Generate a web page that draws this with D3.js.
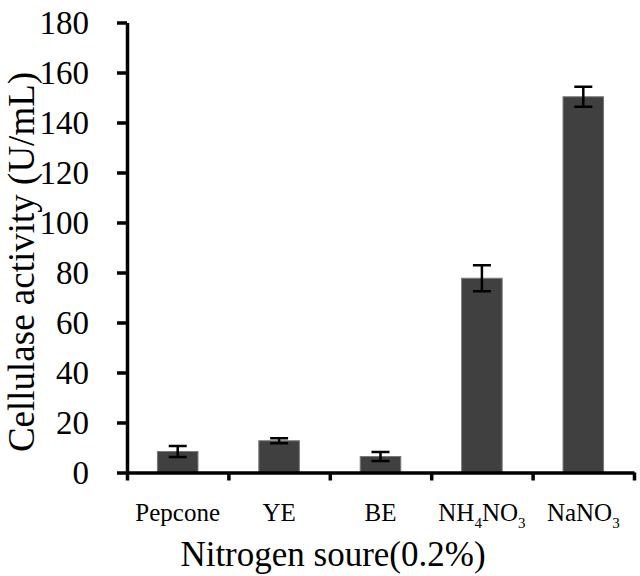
<!DOCTYPE html>
<html><head><meta charset="utf-8">
<script src="https://cdn.jsdelivr.net/npm/d3@7"></script>
<style>
html,body{margin:0;padding:0;background:#fff;}
svg{display:block;}
text{font-family:"Liberation Serif","Times New Roman",serif;fill:#000;}
</style></head>
<body>
<svg id="chart" width="640" height="576"></svg>
<script>
const categories = ["Pepcone", "YE", "BE", "NH4NO3", "NaNO3"];
const values = [8.4, 12.7, 6.4, 77.7, 150.3];
const errors = [2.2, 1.0, 1.8, 5.2, 4.0];
const yTicks = [0, 20, 40, 60, 80, 100, 120, 140, 160, 180];
// label parts: [text, isSubscript]
const labelParts = [
  [["Pepcone", false]],
  [["YE", false]],
  [["BE", false]],
  [["NH", false], ["4", true], ["NO", false], ["3", true]],
  [["NaNO", false], ["3", true]]
];
const xTitle = "Nitrogen soure(0.2%)";
const yTitle = "Cellulase activity (U/mL)";

const svg = d3.select("#chart");
const mLeft = 127, mRight = 634, mTop = 22.5, mBottom = 472.5;

const y = d3.scaleLinear().domain([0, 180]).range([mBottom, mTop]);
const x = d3.scaleBand().domain(categories).range([mLeft, mRight]).paddingInner(0.6).paddingOuter(0.3);
const xEdge = d3.scaleLinear().domain([0, categories.length]).range([mLeft, mRight]);

const data = categories.map((c, i) => ({c, v: values[i], e: errors[i], parts: labelParts[i]}));

// bars
svg.append("g").selectAll("rect").data(data).join("rect")
  .attr("x", d => x(d.c))
  .attr("y", d => y(d.v))
  .attr("width", x.bandwidth())
  .attr("height", d => y(0) - y(d.v))
  .attr("fill", "#404040")
  .attr("stroke", "#7a7a7a")
  .attr("stroke-width", 1);

// error bars
const eb = svg.append("g").attr("stroke", "#000").attr("stroke-width", 2.5);
const cap = 9;
data.forEach(d => {
  const cx = x(d.c) + x.bandwidth() / 2;
  eb.append("line").attr("x1", cx).attr("x2", cx).attr("y1", y(d.v + d.e)).attr("y2", y(d.v - d.e));
  eb.append("line").attr("x1", cx - cap).attr("x2", cx + cap).attr("y1", y(d.v + d.e)).attr("y2", y(d.v + d.e));
  eb.append("line").attr("x1", cx - cap).attr("x2", cx + cap).attr("y1", y(d.v - d.e)).attr("y2", y(d.v - d.e));
});

// y axis
const yAxis = svg.append("g").attr("transform", `translate(${mLeft},0)`)
  .call(d3.axisLeft(y).tickValues(yTicks).tickSize(10).tickPadding(28).tickSizeOuter(0));
yAxis.select(".domain").attr("stroke", "#000").attr("stroke-width", 3.5);
yAxis.selectAll(".tick line").attr("stroke", "#000").attr("stroke-width", 3.5);
yAxis.selectAll(".tick text").attr("font-size", 33).attr("font-family", "Liberation Serif").attr("dy", "0.34em");

// x axis
const xAxis = svg.append("g").attr("transform", `translate(0,${mBottom})`)
  .call(d3.axisBottom(xEdge).ticks(categories.length).tickSize(8).tickFormat("").tickSizeOuter(0));
xAxis.select(".domain").attr("stroke", "#000").attr("stroke-width", 3.5);
xAxis.selectAll(".tick line").attr("stroke", "#000").attr("stroke-width", 3.5);

// x tick labels
const lbl = svg.append("g").selectAll("text").data(data).join("text")
  .attr("x", d => x(d.c) + x.bandwidth() / 2)
  .attr("y", 521)
  .attr("text-anchor", "middle")
  .attr("font-size", 25);
lbl.each(function(d) {
  const t = d3.select(this);
  d.parts.forEach(p => {
    const ts = t.append("tspan").text(p[0]);
    if (p[1]) ts.attr("font-size", 15).attr("dy", 7);
    else if (t.selectAll("tspan").size() > 1) ts.attr("dy", -7);
  });
});

// titles
svg.append("text").attr("x", 333).attr("y", 566).attr("text-anchor", "middle")
  .attr("font-size", 35).text(xTitle);
svg.append("text").attr("transform", "translate(34,262) rotate(-90)").attr("text-anchor", "middle")
  .attr("font-size", 37).text(yTitle);
</script>
</body></html>
